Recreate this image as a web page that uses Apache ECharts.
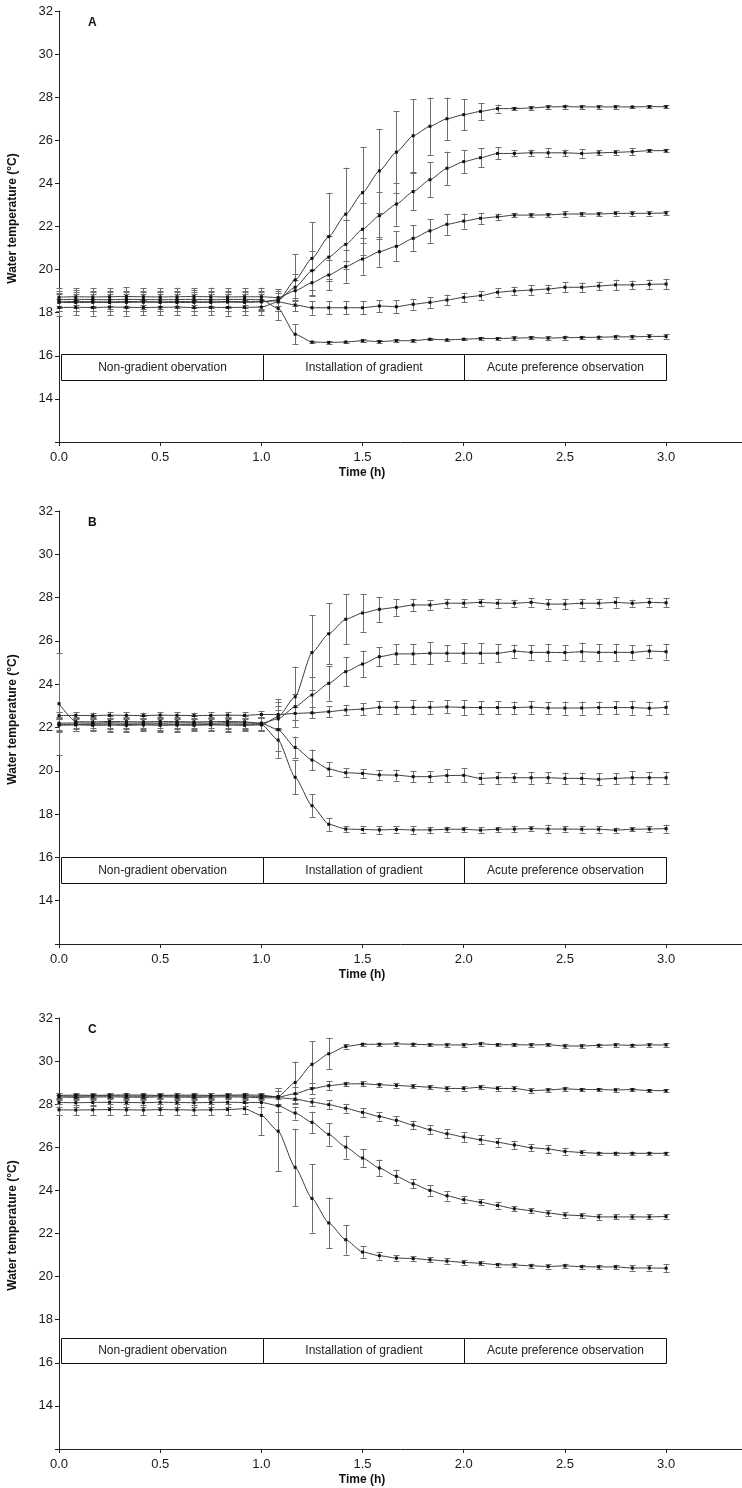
<!DOCTYPE html>
<html><head><meta charset="utf-8">
<script src="https://cdn.jsdelivr.net/npm/echarts@6/dist/echarts.min.js"></script>
<style>html,body{margin:0;padding:0;background:#fff}#c{width:742px;height:1488px}</style>
</head><body><div id="c"></div>
<script>
// ---- time axis (h), 5-min sampling ----
const timeH = [0,0.083,0.167,0.25,0.333,0.417,0.5,0.583,0.667,0.75,0.833,0.917,1,1.083,1.167,1.25,1.333,1.417,1.5,1.583,1.667,1.75,1.833,1.917,2,2.083,2.167,2.25,2.333,2.417,2.5,2.583,2.667,2.75,2.833,2.917,3];

// ---- Panel A ----
const a1 = [18.50,18.52,18.51,18.50,18.52,18.51,18.50,18.52,18.51,18.50,18.52,18.51,18.52, 18.55,19.52,20.52,21.53,22.57,23.57,24.58,25.45,26.21,26.65,27.0,27.19,27.34,27.47,27.47,27.5,27.55,27.56,27.55,27.55,27.55,27.55,27.56,27.56];
const a1Err = [0.42,0.45,0.43,0.44,0.43,0.45,0.44,0.43,0.45,0.44,0.43,0.44,0.42, 0.45,1.2,1.69,2.04,2.16,2.12,1.95,1.9,1.7,1.33,0.98,0.72,0.39,0.19,0.08,0.08,0.08,0.1,0.08,0.08,0.08,0.06,0.08,0.08];
const a2 = [18.48,18.47,18.48,18.47,18.48,18.49,18.48,18.47,18.48,18.48,18.49,18.48,18.50, 18.6,19.18,19.95,20.58,21.17,21.87,22.5,23.04,23.62,24.17,24.7,25.01,25.19,25.39,25.39,25.42,25.42,25.42,25.39,25.42,25.44,25.47,25.52,25.52];
const a2Err = [0.38,0.4,0.38,0.4,0.39,0.4,0.38,0.4,0.39,0.38,0.4,0.39,0.38, 0.5,0.6,0.9,1.0,1.15,1.2,1.1,1.0,0.85,0.8,0.77,0.53,0.43,0.28,0.14,0.15,0.2,0.15,0.19,0.12,0.12,0.17,0.08,0.08];
const a3 = [18.72,18.74,18.73,18.74,18.75,18.74,18.73,18.74,18.75,18.74,18.73,18.74,18.74, 18.7,19.02,19.39,19.75,20.14,20.49,20.83,21.08,21.45,21.8,22.1,22.25,22.38,22.45,22.53,22.53,22.54,22.58,22.58,22.58,22.61,22.61,22.61,22.63];
const a3Err = [0.42,0.4,0.42,0.41,0.42,0.4,0.41,0.42,0.4,0.42,0.41,0.4,0.42, 0.4,0.5,0.6,0.7,0.75,0.73,0.7,0.7,0.6,0.55,0.48,0.35,0.26,0.15,0.1,0.1,0.1,0.12,0.1,0.1,0.1,0.12,0.1,0.1];
const a4 = [18.24,18.25,18.24,18.26,18.25,18.24,18.25,18.26,18.24,18.25,18.24,18.25,18.26, 18.5,18.36,18.23,18.23,18.23,18.23,18.31,18.28,18.39,18.48,18.59,18.71,18.79,18.95,19.01,19.05,19.1,19.18,19.18,19.24,19.29,19.29,19.32,19.33];
const a4Err = [0.38,0.36,0.38,0.37,0.38,0.36,0.37,0.38,0.36,0.37,0.38,0.36,0.37, 0.4,0.3,0.32,0.3,0.3,0.3,0.28,0.3,0.25,0.25,0.25,0.22,0.2,0.2,0.2,0.22,0.2,0.24,0.22,0.2,0.24,0.2,0.22,0.23];
const a5 = [18.6,18.62,18.61,18.6,18.62,18.61,18.6,18.61,18.62,18.6,18.61,18.62,18.6, 18.2,17.0,16.64,16.62,16.64,16.7,16.66,16.7,16.7,16.77,16.74,16.77,16.8,16.8,16.82,16.84,16.82,16.84,16.85,16.86,16.88,16.88,16.9,16.9];
const a5Err = [0.4,0.42,0.4,0.41,0.4,0.42,0.41,0.4,0.42,0.4,0.41,0.4,0.42, 0.55,0.46,0.06,0.08,0.06,0.06,0.08,0.06,0.06,0.05,0.06,0.06,0.08,0.06,0.08,0.06,0.08,0.1,0.08,0.08,0.1,0.1,0.1,0.12];

// ---- Panel B ----
const b1 = [22.1,22.12,22.1,22.11,22.1,22.12,22.1,22.11,22.1,22.12,22.11,22.1,22.12, 22.5,23.42,25.46,26.33,27.0,27.29,27.46,27.55,27.66,27.66,27.74,27.74,27.78,27.74,27.74,27.78,27.7,27.7,27.74,27.74,27.78,27.74,27.78,27.76];
const b1Err = [0.3,0.3,0.28,0.3,0.3,0.28,0.3,0.3,0.28,0.3,0.3,0.28,0.3, 0.5,1.39,1.72,1.42,1.15,0.86,0.58,0.39,0.28,0.22,0.2,0.18,0.16,0.2,0.16,0.2,0.22,0.24,0.2,0.2,0.24,0.16,0.2,0.2];
const b2 = [22.2,22.21,22.2,22.22,22.2,22.21,22.2,22.22,22.21,22.2,22.22,22.21,22.2, 22.4,22.96,23.5,24.04,24.58,24.93,25.27,25.4,25.4,25.43,25.43,25.43,25.43,25.43,25.53,25.47,25.47,25.46,25.5,25.47,25.47,25.47,25.53,25.5];
const b2Err = [0.3,0.28,0.3,0.3,0.28,0.3,0.3,0.28,0.3,0.3,0.28,0.3,0.3, 0.4,0.6,0.82,0.81,0.68,0.62,0.44,0.45,0.45,0.52,0.36,0.45,0.45,0.42,0.3,0.35,0.4,0.35,0.42,0.38,0.4,0.33,0.3,0.36];
const b3 = [22.55,22.56,22.55,22.57,22.56,22.55,22.57,22.56,22.55,22.56,22.57,22.56,22.6, 22.6,22.65,22.68,22.73,22.81,22.85,22.93,22.93,22.93,22.93,22.95,22.93,22.92,22.92,22.92,22.94,22.9,22.9,22.9,22.92,22.92,22.92,22.89,22.93];
const b3Err = [0.15,0.15,0.14,0.15,0.15,0.14,0.15,0.15,0.14,0.15,0.15,0.14,0.15, 0.7,0.3,0.25,0.25,0.22,0.28,0.3,0.3,0.32,0.3,0.3,0.35,0.3,0.3,0.28,0.3,0.26,0.3,0.3,0.28,0.3,0.32,0.3,0.3];
const b4 = [23.1,22.27,22.26,22.28,22.27,22.26,22.28,22.27,22.26,22.27,22.28,22.26,22.19, 21.9,21.08,20.5,20.08,19.91,19.88,19.81,19.8,19.73,19.73,19.78,19.79,19.65,19.68,19.68,19.68,19.68,19.65,19.65,19.61,19.65,19.68,19.68,19.68];
const b4Err = [2.35,0.3,0.28,0.3,0.3,0.28,0.3,0.3,0.28,0.3,0.3,0.28,0.3, 1.3,0.5,0.48,0.33,0.2,0.2,0.22,0.25,0.25,0.25,0.3,0.32,0.27,0.27,0.22,0.27,0.26,0.27,0.27,0.27,0.25,0.3,0.27,0.27];
const b5 = [22.15,22.14,22.15,22.16,22.14,22.15,22.16,22.14,22.15,22.14,22.16,22.15,22.15, 21.42,19.7,18.39,17.53,17.31,17.29,17.27,17.29,17.27,17.27,17.3,17.3,17.26,17.3,17.31,17.33,17.31,17.31,17.3,17.3,17.26,17.3,17.31,17.33];
const b5Err = [0.3,0.3,0.28,0.3,0.3,0.28,0.3,0.3,0.28,0.3,0.3,0.28,0.3, 0.5,0.78,0.52,0.3,0.15,0.15,0.18,0.15,0.17,0.15,0.12,0.12,0.13,0.12,0.15,0.1,0.2,0.12,0.15,0.15,0.12,0.1,0.12,0.18];

// ---- Panel C ----
const c1 = [28.38,28.37,28.38,28.39,28.38,28.37,28.39,28.38,28.37,28.38,28.39,28.38,28.36, 28.36,29.01,29.85,30.34,30.68,30.78,30.78,30.8,30.78,30.76,30.75,30.75,30.8,30.76,30.76,30.75,30.76,30.7,30.7,30.73,30.75,30.73,30.75,30.75];
const c1Err = [0.12,0.12,0.1,0.12,0.12,0.1,0.12,0.12,0.1,0.12,0.12,0.1,0.12, 0.4,0.96,1.06,0.71,0.1,0.08,0.08,0.08,0.08,0.08,0.08,0.08,0.1,0.08,0.08,0.08,0.08,0.1,0.1,0.08,0.08,0.08,0.08,0.08];
const c2 = [28.41,28.42,28.41,28.42,28.43,28.42,28.41,28.42,28.42,28.41,28.42,28.43,28.42, 28.33,28.49,28.72,28.86,28.94,28.95,28.9,28.87,28.83,28.79,28.73,28.73,28.79,28.73,28.73,28.63,28.66,28.71,28.68,28.68,28.66,28.68,28.63,28.63];
const c2Err = [0.1,0.1,0.1,0.1,0.1,0.1,0.1,0.1,0.1,0.1,0.1,0.1,0.1, 0.4,0.3,0.25,0.2,0.1,0.12,0.1,0.1,0.1,0.1,0.1,0.1,0.1,0.12,0.1,0.1,0.08,0.1,0.08,0.08,0.1,0.08,0.08,0.08];
const c3 = [28.33,28.32,28.33,28.34,28.33,28.32,28.34,28.33,28.32,28.33,28.34,28.33,28.3, 28.3,28.24,28.1,27.98,27.81,27.62,27.43,27.25,27.03,26.82,26.63,26.48,26.35,26.23,26.11,25.98,25.92,25.81,25.76,25.72,25.72,25.72,25.72,25.72];
const c3Err = [0.12,0.12,0.12,0.12,0.12,0.12,0.12,0.12,0.12,0.12,0.12,0.12,0.12, 0.3,0.25,0.2,0.2,0.2,0.2,0.2,0.2,0.2,0.2,0.2,0.22,0.22,0.2,0.2,0.15,0.18,0.15,0.1,0.08,0.08,0.08,0.08,0.06];
const c4 = [28.08,28.07,28.08,28.09,28.08,28.07,28.09,28.08,28.07,28.08,28.09,28.08,28.08, 27.93,27.59,27.16,26.6,26.01,25.5,25.04,24.65,24.31,24.0,23.75,23.57,23.45,23.3,23.15,23.06,22.95,22.86,22.83,22.77,22.77,22.77,22.77,22.79];
const c4Err = [0.2,0.2,0.18,0.2,0.2,0.18,0.2,0.2,0.18,0.2,0.2,0.18,0.2, 0.3,0.3,0.49,0.52,0.53,0.42,0.39,0.31,0.22,0.25,0.22,0.15,0.15,0.15,0.12,0.12,0.14,0.12,0.12,0.15,0.12,0.12,0.12,0.1];
const c5 = [27.74,27.73,27.74,27.75,27.74,27.73,27.75,27.74,27.73,27.74,27.75,27.79,27.48, 26.75,25.07,23.63,22.49,21.71,21.14,20.97,20.86,20.84,20.78,20.72,20.66,20.62,20.55,20.54,20.5,20.47,20.5,20.46,20.45,20.45,20.4,20.4,20.39];
const c5Err = [0.25,0.25,0.24,0.25,0.25,0.24,0.25,0.25,0.24,0.25,0.25,0.25,0.93, 1.85,1.79,1.59,1.18,0.69,0.26,0.18,0.12,0.12,0.12,0.12,0.12,0.1,0.1,0.1,0.1,0.1,0.1,0.1,0.1,0.1,0.12,0.12,0.19];

// ---- annotations ----
const panelLetters = ['A','B','C'];
const phaseLabels = ['Non-gradient obervation','Installation of gradient','Acute preference observation'];
const phaseEdges = [0.01, 1.01, 2.0, 3.0];
const phaseBoxY = [[14.9,16.1],[14.8,16.0],[16.0,17.15]];
const yTickRange = [12, 32, 2];
const xTickRange = [0, 3.375, 0.5];
const xLabelMax = 3.0;

const panels = [
  {s:[a1,a2,a3,a4,a5], e:[a1Err,a2Err,a3Err,a4Err,a5Err]},
  {s:[b1,b2,b3,b4,b5], e:[b1Err,b2Err,b3Err,b4Err,b5Err]},
  {s:[c1,c2,c3,c4,c5], e:[c1Err,c2Err,c3Err,c4Err,c5Err]}
];

// ---- layout ----
const FONT = "'Liberation Sans', Arial, sans-serif";
const gridTops = [11, 511, 1018];
const gridHeights = [431, 433, 431];
const gridLeft = 59, gridRight = 0;

const grids = [], xAxes = [], yAxes = [], series = [], graphics = [];

function renderErr(params, api) {
  const x = api.value(0), v = api.value(1), e = api.value(2);
  const t = api.coord([x, v + e]), b = api.coord([x, v - e]);
  const cx = Math.round(t[0]) + 0.5, w = 3;
  const st = {stroke: '#6e6e6e', lineWidth: 1};
  return {type: 'group', children: [
    {type: 'line', shape: {x1: cx, y1: t[1], x2: cx, y2: b[1]}, style: st},
    {type: 'line', shape: {x1: cx - w, y1: Math.round(t[1]) + 0.5, x2: cx + w, y2: Math.round(t[1]) + 0.5}, style: st},
    {type: 'line', shape: {x1: cx - w, y1: Math.round(b[1]) + 0.5, x2: cx + w, y2: Math.round(b[1]) + 0.5}, style: st}
  ]};
}

function renderBox(params, api) {
  const x0 = api.value(0), x1 = api.value(1), y0 = api.value(2), y1 = api.value(3);
  const p0 = api.coord([x0, y0]), p1 = api.coord([x1, y1]);
  const L = Math.round(p0[0]) + 0.5, R = Math.round(p1[0]) + 0.5;
  const T = Math.round(p1[1]) + 0.5, B = Math.round(p0[1]) + 0.5;
  return {type: 'group', children: [
    {type: 'rect', shape: {x: L, y: T, width: R - L, height: B - T}, style: {fill: '#fff', stroke: '#111', lineWidth: 1}},
    {type: 'text', style: {text: phaseLabels[params.dataIndex], x: (L + R) / 2, y: (T + B) / 2,
      textAlign: 'center', textVerticalAlign: 'middle', align: 'center', verticalAlign: 'middle',
      font: '12px ' + FONT, fill: '#222'}}
  ]};
}

panels.forEach((p, k) => {
  grids.push({left: gridLeft, right: gridRight, top: gridTops[k], height: gridHeights[k], containLabel: false});
  xAxes.push({
    type: 'value', gridIndex: k, min: xTickRange[0], max: xTickRange[1], interval: xTickRange[2],
    axisLine: {show: true, onZero: false, lineStyle: {color: '#222', width: 1}},
    axisTick: {show: true, inside: false, length: 4, lineStyle: {color: '#222'}},
    axisLabel: {color: '#1a1a1a', fontSize: 13, fontFamily: FONT, margin: 9, showMaxLabel: false,
      formatter: v => (v > xLabelMax ? '' : v.toFixed(1))},
    splitLine: {show: false}
  });
  yAxes.push({
    type: 'value', gridIndex: k, min: yTickRange[0], max: yTickRange[1], interval: yTickRange[2],
    axisLine: {show: true, lineStyle: {color: '#222', width: 1}},
    axisTick: {show: true, inside: false, length: 4, lineStyle: {color: '#222'}},
    axisLabel: {color: '#1a1a1a', fontSize: 13, fontFamily: FONT, margin: 6, formatter: v => (v === yTickRange[0] ? '' : String(v))},
    splitLine: {show: false}
  });
  series.push({
    type: 'custom', xAxisIndex: k, yAxisIndex: k, z: 1, silent: true,
    renderItem: renderBox, encode: {x: [0, 1], y: [2, 3]},
    data: phaseLabels.map((_, j) => [phaseEdges[j], phaseEdges[j + 1], phaseBoxY[k][0], phaseBoxY[k][1]])
  });
  const errData = [];
  p.s.forEach((arr, si) => arr.forEach((v, i) => errData.push([timeH[i], v, p.e[si][i]])));
  series.push({
    type: 'custom', xAxisIndex: k, yAxisIndex: k, z: 2, silent: true,
    renderItem: renderErr, encode: {x: 0, y: 1}, data: errData
  });
  p.s.forEach((arr) => {
    series.push({
      type: 'line', xAxisIndex: k, yAxisIndex: k, z: 3, silent: true,
      data: arr.map((v, i) => [timeH[i], v]),
      smooth: 0.2, smoothMonotone: 'x',
      symbol: 'rect', symbolSize: 3, showSymbol: true,
      lineStyle: {color: '#3a3a3a', width: 1},
      itemStyle: {color: '#111'},
      animation: false
    });
  });
  const top = gridTops[k], h = gridHeights[k];
  graphics.push({type: 'text', left: 88, top: top + 6, style: {text: panelLetters[k], font: 'bold 12px ' + FONT, fill: '#111'}});
  graphics.push({type: 'text', x: 13, y: top + h / 2 - 8, rotation: Math.PI / 2,
    style: {text: 'Water temperature (°C)', font: 'bold 12px ' + FONT, fill: '#111', textAlign: 'center', textVerticalAlign: 'middle', align: 'center', verticalAlign: 'middle'}});
  graphics.push({type: 'text', x: 362, y: top + h + 31,
    style: {text: 'Time (h)', font: 'bold 12px ' + FONT, fill: '#111', textAlign: 'center', textVerticalAlign: 'middle', align: 'center', verticalAlign: 'middle'}});
});

const chart = echarts.init(document.getElementById('c'), null, {renderer: 'canvas'});
chart.setOption({
  animation: false,
  backgroundColor: '#fff',
  grid: grids, xAxis: xAxes, yAxis: yAxes, series: series, graphic: graphics
});
</script>
</body></html>
